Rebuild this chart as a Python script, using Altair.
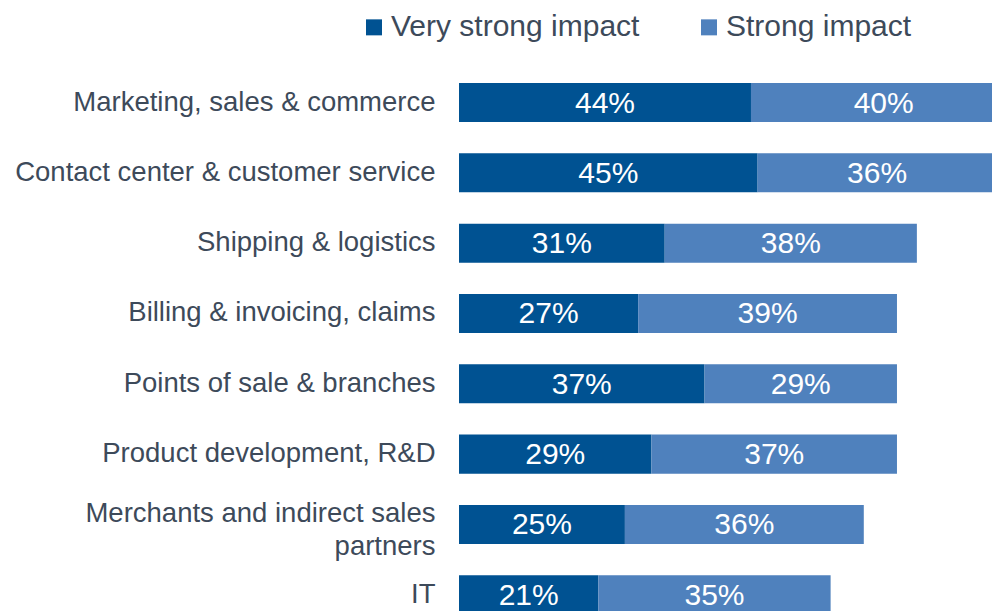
import altair as alt
import pandas as pd

categories = [
    "Marketing, sales & commerce",
    "Contact center & customer service",
    "Shipping & logistics",
    "Billing & invoicing, claims",
    "Points of sale & branches",
    "Product development, R&D",
    "Merchants and indirect sales partners",
    "IT",
]
very_strong = [44, 45, 31, 27, 37, 29, 25, 21]
strong = [40, 36, 38, 39, 29, 37, 36, 35]
series = ["Very strong impact", "Strong impact"]
colors = ["#005292", "#4F81BD"]

rows = []
for c, v1, v2 in zip(categories, very_strong, strong):
    rows.append({"category": c, "series": series[0], "value": v1, "order": 0})
    rows.append({"category": c, "series": series[1], "value": v2, "order": 1})
df = pd.DataFrame(rows)

FONT = "Liberation Sans"
TXT = "#3D4A5A"
WRAP_TEST = "datum.value == 'Merchants and indirect sales partners'"

base = (
    alt.Chart(df)
    .transform_stack(
        stack="value",
        as_=["x0", "x1"],
        groupby=["category"],
        sort=[alt.SortField("order", order="ascending")],
    )
    .transform_calculate(mid="(datum.x0 + datum.x1) / 2", label="datum.value + '%'")
)

y_enc = alt.Y(
    "category:N",
    sort=categories,
    scale=alt.Scale(paddingInner=0.445, paddingOuter=0.2225, range=[0, 562.6]),
    axis=alt.Axis(
        title=None,
        ticks=False,
        domain=False,
        grid=False,
        labelFont=FONT,
        labelFontSize=27.5,
        labelColor=TXT,
        labelPadding=24,
        labelLimit=1000,
        labelLineHeight=33,
        labelOffset={"condition": {"test": WRAP_TEST, "value": -10}, "value": 0},
        labelExpr=WRAP_TEST + " ? ['Merchants and indirect sales', 'partners'] : datum.value",
    ),
)

x_scale = alt.Scale(domain=[0, 80.32], nice=False, zero=True)

bars = base.mark_bar(clip=True).encode(
    y=y_enc,
    x=alt.X("x0:Q", scale=x_scale, axis=None),
    x2="x1:Q",
    color=alt.Color(
        "series:N",
        scale=alt.Scale(domain=series, range=colors),
        sort=series,
        legend=alt.Legend(
            title=None,
            orient="none",
            direction="horizontal",
            legendX=-100,
            legendY=-55,
            symbolType="square",
            symbolSize=256,
            symbolStrokeWidth=0,
            symbolOpacity=1,
            labelFont=FONT,
            labelFontSize=30,
            labelColor=TXT,
            labelOffset=2,
            columnPadding=54,
            labelLimit=1000,
        ),
    ),
    order=alt.Order("order:Q"),
)

texts = base.mark_text(
    color="white", font=FONT, fontSize=30, baseline="middle", align="center", dy=1
).encode(
    y=y_enc,
    x=alt.X("mid:Q", scale=x_scale, axis=None),
    text="label:N",
)

chart = (
    alt.layer(bars, texts)
    .properties(
        width=533,
        height=543.65,
        background="white",
        autosize=alt.AutoSizeParams(type="none"),
        padding={"left": 451, "top": 59.35, "right": 0, "bottom": 0},
    )
    .configure_view(stroke="transparent", strokeWidth=0)
)

chart.save("out.html", embed_options={"renderer": "svg", "actions": False})
